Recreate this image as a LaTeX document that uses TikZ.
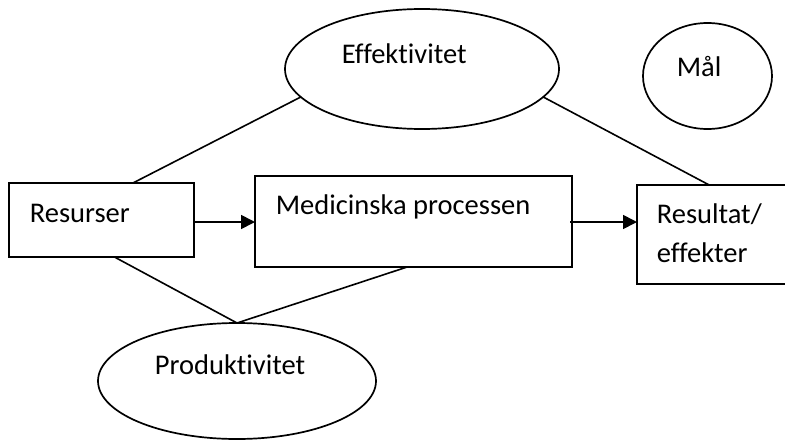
\documentclass[tikz,border=0pt]{standalone}
\usepackage{fontspec}
\setmainfont{Carlito}[Ligatures=NoCommon]
\usetikzlibrary{shapes.geometric,arrows.meta,calc}
\begin{document}
\begin{tikzpicture}[x=1pt,y=-1pt,
  line width=1.7pt,
  boxshape/.style={draw,rectangle,inner sep=0pt,outer sep=0pt,anchor=north west},
  ovalshape/.style={draw,ellipse,inner sep=0pt,outer sep=0pt},
  lbl/.style={anchor=base west,inner sep=0pt,font=\fontsize{28.5}{34}\selectfont},
  arr/.style={-{Triangle[length=14pt,width=14pt]}},
  link/.style={line width=1.6pt}]
\useasboundingbox (0,0) rectangle (785,442);
\clip (0,0) rectangle (785,442);
% boxes
\node[boxshape,minimum width=185pt,minimum height=74pt] (res) at (9,183) {};
\node[boxshape,minimum width=317pt,minimum height=91pt] (med) at (255,176) {};
\node[boxshape,minimum width=152pt,minimum height=99pt] (resu) at (637,185) {};
% ellipses
\node[ovalshape,minimum width=274pt,minimum height=120pt] (eff) at (422,69) {};
\node[ovalshape,minimum width=129pt,minimum height=106pt] (mal) at (707.5,76) {};
\node[ovalshape,minimum width=278pt,minimum height=116pt] (prod) at (237,381) {};
% labels
\node[lbl] (tres) at (29,222) {Resurser};
\node[lbl] (tmed) at (275,214) {Medicinska processen};
\node[lbl] (tresu1) at (656,223) {Resultat/};
\node[lbl] (tresu2) at (656,262) {effekter};
\node[lbl] (teff) at (341,63) {Effektivitet};
\node[lbl] (tprod) at (154,374) {Produktivitet};
\node[lbl] (tmal) at (676,76) {Mål};
% connection points
\coordinate (resTop) at ($(res.north west)!0.67!(res.north east)$);
\coordinate (resBot) at ($(res.south west)!0.57!(res.south east)$);
\coordinate (medBot) at ($(med.south west)!0.48!(med.south east)$);
\coordinate (resuTop) at ($(resu.north west)!0.475!(resu.north east)$);
\coordinate (medOut) at ($(med.east)+(-2,0)$);
% connectors
\draw[arr] (res.east |- 0,222) -- (med.west |- 0,222);
\draw[arr] (medOut |- 0,222) -- (resu.west |- 0,222);
\draw[link] (eff.193.9) -- (resTop);
\draw[link] (eff.347.5) -- (resuTop);
\draw[link] (prod.north) -- (resBot);
\draw[link] (prod.north) -- (medBot);
\end{tikzpicture}
\end{document}
